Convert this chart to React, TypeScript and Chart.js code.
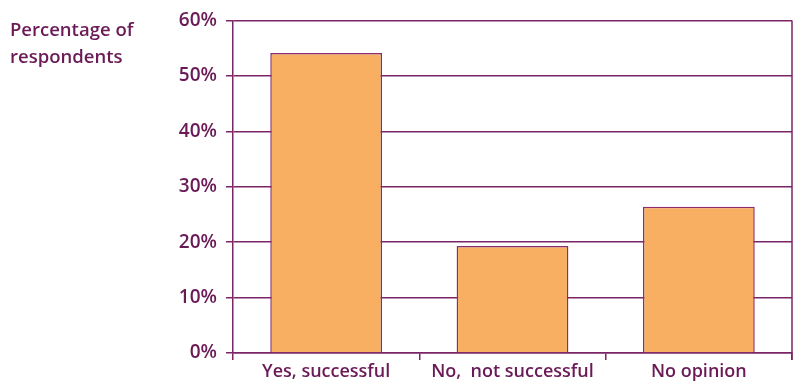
import React, { useEffect, useRef } from "react";
import { Chart, registerables } from "chart.js";

Chart.register(...registerables);

const categories = ["Yes, successful", "No,  not successful", "No opinion"];
const values = [54.1, 19.3, 26.4];
const yTicks = [0, 10, 20, 30, 40, 50, 60];

const PURPLE = "#6a1a56";
const LINE = "#7b2567";
const FILL = "#f9af62";
const FONT = "'Open Sans', 'DejaVu Sans', sans-serif";

const rightBorder = {
  id: "rightBorder",
  afterDraw(chart: any) {
    const { ctx, chartArea } = chart;
    ctx.save();
    ctx.strokeStyle = LINE;
    ctx.lineWidth = 1.5;
    ctx.beginPath();
    ctx.moveTo(chartArea.right, chartArea.top);
    ctx.lineTo(chartArea.right, chartArea.bottom + 7);
    ctx.stroke();
    ctx.restore();
  },
};

export default function App() {
  const ref = useRef<HTMLCanvasElement | null>(null);

  useEffect(() => {
    if (!ref.current) return;
    const chart = new Chart(ref.current, {
      type: "bar",
      data: {
        labels: categories,
        datasets: [
          {
            data: values,
            backgroundColor: FILL,
            borderColor: "#8a2c70",
            borderWidth: 1.5,
            barPercentage: 0.6,
            categoryPercentage: 1,
          },
        ],
      },
      plugins: [rightBorder],
      options: {
        animation: false,
        responsive: false,
        maintainAspectRatio: false,
        layout: { padding: { top: 17, right: 2, left: 0, bottom: 0 } },
        plugins: { legend: { display: false }, tooltip: { enabled: false } },
        scales: {
          x: {
            offset: true,
            grid: {
              offset: true,
              color: "rgba(0,0,0,0)",
              tickColor: LINE,
              tickLength: 7,
              lineWidth: 1.5,
            },
            border: { color: LINE, width: 1.5 },
            ticks: {
              color: PURPLE,
              padding: 1,
              font: { family: FONT, size: 18, weight: "600" },
            },
            afterFit: (scale: any) => {
              scale.height = 30;
            },
          },
          y: {
            min: 0,
            max: 60,
            afterBuildTicks: (scale: any) => {
              scale.ticks = yTicks.map((v) => ({ value: v }));
            },
            grid: {
              color: LINE,
              tickColor: LINE,
              tickLength: 7,
              lineWidth: 1.5,
            },
            border: { color: LINE, width: 1.5 },
            ticks: {
              color: PURPLE,
              padding: 9,
              font: { family: FONT, size: 19, weight: "600" },
              callback: (v: any) => v + "%",
            },
            afterFit: (scale: any) => {
              scale.width = 233;
            },
          },
        },
      },
    });
    return () => chart.destroy();
  }, []);

  return (
    <div style={{ position: "fixed", left: 0, top: 0, width: 794, height: 383, background: "#fff" }}>
      <canvas ref={ref} width={794} height={383} style={{ width: 794, height: 383, display: "block" }} />
      <div
        style={{
          position: "absolute",
          left: 10,
          top: 15,
          color: PURPLE,
          fontFamily: FONT,
          fontWeight: 600,
          fontSize: 18.5,
          lineHeight: "27px",
        }}
      >
        Percentage of
        <br />
        respondents
      </div>
    </div>
  );
}
